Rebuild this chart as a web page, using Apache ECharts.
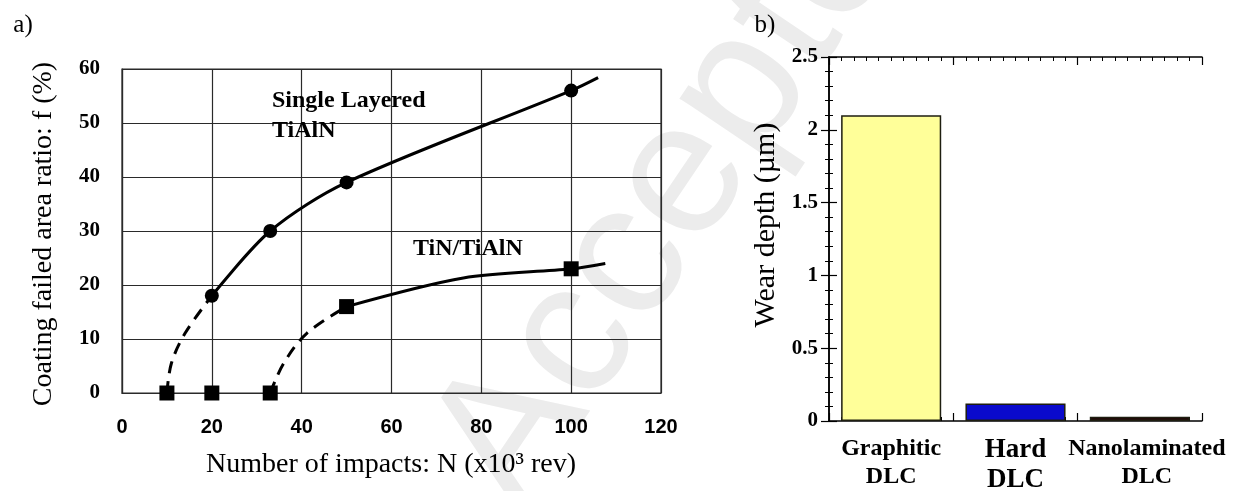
<!DOCTYPE html>
<html>
<head>
<meta charset="utf-8">
<script src="https://cdn.jsdelivr.net/npm/echarts@6/dist/echarts.min.js"></script>
<style>
  html, body { margin: 0; padding: 0; background: #fff; }
  #chart { width: 1238px; height: 491px; }
</style>
</head>
<body>
<div id="chart"></div>
<script>
// ---- Panel a): coating failed area ratio vs number of impacts ----
const impactTicks = [0, 20, 40, 60, 80, 100, 120];
const ratioTicks = [0, 10, 20, 30, 40, 50, 60];
// Single layered TiAlN: measured points, fitted trend and dashed onset
const singleLayerPoints = [[20, 18], [33, 30], [50, 39], [100, 56]];
const singleLayerCurve = [[20, 18], [33, 30], [50, 39], [100, 56], [106, 58.4]];
const singleLayerOnset = [[10, 0], [11, 5.5], [14, 11], [20, 18]];
// TiN/TiAlN multilayer
const multiLayerPoints = [[10, 0], [20, 0], [33, 0], [50, 16], [100, 23]];
const multiLayerCurve = [[50, 16], [76, 21.3], [100, 23], [107.6, 24]];
const multiLayerOnset = [[33, 0], [36, 5.5], [41.2, 11.1], [50, 16]];

// ---- Panel b): wear depth of the DLC coatings ----
const coatings = ['Graphitic\nDLC', 'Hard\nDLC', 'Nanolaminated\nDLC'];
const wearDepth = [2.10, 0.12, 0.03];
const barColors = ['#ffff99', '#0a0acc', '#220606'];
const depthTicks = [0, 0.5, 1, 1.5, 2, 2.5];

const SERIF = '"Liberation Serif", "Times New Roman", serif';
const SANS = '"Liberation Sans", Arial, sans-serif';
const INK = '#000';
const GRIDLINE = '#2a2a2a';

const chart = echarts.init(document.getElementById('chart'), null, { renderer: 'canvas' });

const frameTicks = (position, showLine) => ({
  type: 'value', gridIndex: 1, position: position,
  min: 0, max: coatings.length, interval: 1,
  axisLine: { show: showLine, lineStyle: { color: INK, width: 1.5 } },
  axisTick: { show: true, inside: true, length: 8, lineStyle: { color: INK, width: 1.2 } },
  minorTick: { show: true, splitNumber: 10, length: 4, lineStyle: { color: INK, width: 1 } },
  axisLabel: { show: false }, splitLine: { show: false }, minorSplitLine: { show: false }
});

const depthAxis = (position, showLabels) => ({
  type: 'value', gridIndex: 1, position: position,
  min: depthTicks[0], max: depthTicks[depthTicks.length - 1], interval: 0.5,
  axisLine: { show: true, lineStyle: { color: INK, width: 1.5 } },
  axisTick: { show: true, inside: true, length: 8, lineStyle: { color: INK, width: 1.2 } },
  minorTick: { show: true, splitNumber: 5, length: 4, lineStyle: { color: INK, width: 1 } },
  axisLabel: {
    show: showLabels, margin: 11, color: INK,
    fontFamily: SERIF, fontWeight: 'bold', fontSize: 21,
    formatter: v => String(v)
  },
  splitLine: { show: false }
});

// per-category label sizes: the middle label is set larger
const categoryLabelStyle = [
  { fontSize: 24, lineHeight: 28 },
  { fontSize: 27, lineHeight: 30 },
  { fontSize: 24, lineHeight: 28, padding: [0, 0, 0, 14] }
];

const option = {
  animation: false,
  backgroundColor: '#fff',
  grid: [
    { left: 122, top: 69, width: 539, height: 324, show: true, borderColor: GRIDLINE, borderWidth: 1.2, backgroundColor: 'transparent', outerBoundsMode: 'none', containLabel: false },
    { left: 829, top: 57, width: 373, height: 364, show: false, outerBoundsMode: 'none', containLabel: false }
  ],
  xAxis: [
    {
      type: 'value', gridIndex: 0,
      min: impactTicks[0], max: impactTicks[impactTicks.length - 1], interval: 20,
      axisLine: { show: true, onZero: false, lineStyle: { color: GRIDLINE, width: 1.2 } },
      axisTick: { show: false },
      axisLabel: { margin: 24, color: INK, fontFamily: SANS, fontWeight: 'bold', fontSize: 20 },
      splitLine: { show: true, lineStyle: { color: GRIDLINE, width: 1.2 } }
    },
    {
      type: 'category', gridIndex: 1, position: 'bottom',
      data: coatings.map((c, i) => ({
        value: c,
        textStyle: Object.assign({ fontFamily: SERIF, fontWeight: 'bold', color: INK }, categoryLabelStyle[i])
      })),
      axisLine: { show: true, lineStyle: { color: INK, width: 1.5 } },
      axisTick: { show: false },
      axisLabel: {
        interval: 0, margin: 14, color: INK,
        fontFamily: SERIF, fontWeight: 'bold', fontSize: 24, lineHeight: 28
      },
      splitLine: { show: false }
    },
    frameTicks('bottom', false),
    frameTicks('top', true)
  ],
  yAxis: [
    {
      type: 'value', gridIndex: 0,
      min: ratioTicks[0], max: ratioTicks[ratioTicks.length - 1], interval: 10,
      axisLine: { show: true, onZero: false, lineStyle: { color: GRIDLINE, width: 1.2 } },
      axisTick: { show: false },
      axisLabel: { margin: 22, color: INK, fontFamily: SERIF, fontWeight: 'bold', fontSize: 21 },
      splitLine: { show: true, lineStyle: { color: GRIDLINE, width: 1.2 } }
    },
    depthAxis('left', true),
    depthAxis('right', false)
  ],
  series: [
    {
      name: 'Single Layered TiAlN (onset)', type: 'line', xAxisIndex: 0, yAxisIndex: 0,
      data: singleLayerOnset, smooth: 0.35, symbol: 'none', z: 3,
      lineStyle: { color: INK, width: 3, type: [12, 8] }
    },
    {
      name: 'Single Layered TiAlN', type: 'line', xAxisIndex: 0, yAxisIndex: 0,
      data: singleLayerCurve, smooth: 0.3, symbol: 'none', z: 3,
      lineStyle: { color: INK, width: 3 }
    },
    {
      name: 'TiN/TiAlN (onset)', type: 'line', xAxisIndex: 0, yAxisIndex: 0,
      data: multiLayerOnset, smooth: 0.35, symbol: 'none', z: 3,
      lineStyle: { color: INK, width: 3, type: [12, 8] }
    },
    {
      name: 'TiN/TiAlN', type: 'line', xAxisIndex: 0, yAxisIndex: 0,
      data: multiLayerCurve, smooth: 0.3, symbol: 'none', z: 3,
      lineStyle: { color: INK, width: 3 }
    },
    {
      name: 'Single Layered TiAlN points', type: 'scatter', xAxisIndex: 0, yAxisIndex: 0,
      data: singleLayerPoints, symbol: 'circle', symbolSize: 14, z: 4,
      itemStyle: { color: INK, opacity: 1 }
    },
    {
      name: 'TiN/TiAlN points', type: 'scatter', xAxisIndex: 0, yAxisIndex: 0,
      data: multiLayerPoints, symbol: 'rect', symbolSize: 15, z: 4,
      itemStyle: { color: INK, opacity: 1 }
    },
    {
      name: 'Wear depth', type: 'bar', xAxisIndex: 1, yAxisIndex: 1,
      barWidth: '80.5%', z: 2,
      data: wearDepth.map((v, i) => ({
        value: v,
        itemStyle: { color: barColors[i], borderColor: '#1e1e10', borderWidth: 1.5, opacity: 1 }
      }))
    }
  ],
  graphic: [
    // faint diagonal "Accepted" stamp behind both panels
    {
      type: 'text', x: 476, y: 486, rotation: 56 * Math.PI / 180, z: -10, silent: true,
      style: { text: 'Accepted', fill: '#ececec', font: 'normal 190px ' + SANS, textAlign: 'left', textVerticalAlign: 'middle' }
    },
    { type: 'text', x: 23, y: 25, style: { text: 'a)', fill: INK, font: 'normal 25px ' + SERIF, textAlign: 'center', textVerticalAlign: 'middle' } },
    { type: 'text', x: 765, y: 25, style: { text: 'b)', fill: INK, font: 'normal 25px ' + SERIF, textAlign: 'center', textVerticalAlign: 'middle' } },
    { type: 'text', x: 272, y: 101, z: 10, style: { text: 'Single Layered', fill: INK, font: 'bold 24px ' + SERIF, textAlign: 'left', textVerticalAlign: 'middle' } },
    { type: 'text', x: 272, y: 131, z: 10, style: { text: 'TiAlN', fill: INK, font: 'bold 24px ' + SERIF, textAlign: 'left', textVerticalAlign: 'middle' } },
    { type: 'text', x: 413, y: 249, z: 10, style: { text: 'TiN/TiAlN', fill: INK, font: 'bold 24px ' + SERIF, textAlign: 'left', textVerticalAlign: 'middle' } },
    // axis titles
    { type: 'text', x: 391, y: 465, style: { text: 'Number of impacts: N (x10³ rev)', fill: INK, font: 'normal 28px ' + SERIF, textAlign: 'center', textVerticalAlign: 'middle' } },
    { type: 'text', x: 44, y: 234, rotation: Math.PI / 2, style: { text: 'Coating failed area ratio: f (%)', fill: INK, font: 'normal 28px ' + SERIF, textAlign: 'center', textVerticalAlign: 'middle' } },
    { type: 'text', x: 766, y: 225, rotation: Math.PI / 2, style: { text: 'Wear depth (µm)', fill: INK, font: 'normal 30px ' + SERIF, textAlign: 'center', textVerticalAlign: 'middle' } }
  ]
};

chart.setOption(option);
</script>
</body>
</html>
